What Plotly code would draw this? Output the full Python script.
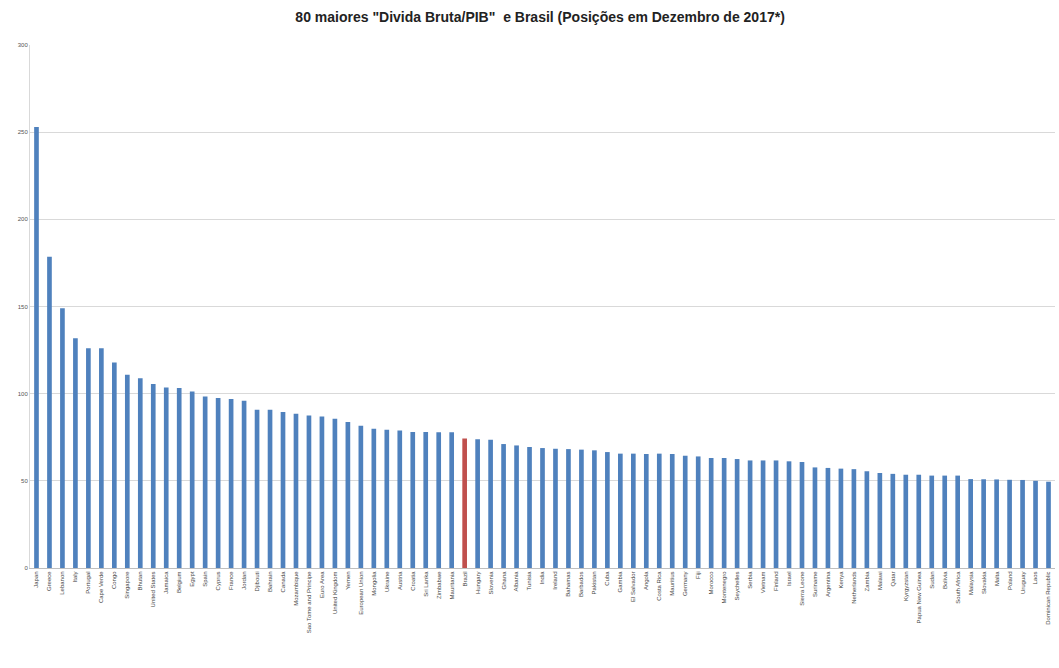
import plotly.graph_objects as go

# Government gross debt as % of GDP, positions at December 2017
countries = [
    "Japan", "Greece", "Lebanon", "Italy", "Portugal", "Cape Verde", "Congo",
    "Singapore", "Bhutan", "United States", "Jamaica", "Belgium", "Egypt",
    "Spain", "Cyprus", "France", "Jordan", "Djibouti", "Bahrain", "Canada",
    "Mozambique", "Sao Tome and Principe", "Euro Area", "United Kingdom",
    "Yemen", "European Union", "Mongolia", "Ukraine", "Austria", "Croatia",
    "Sri Lanka", "Zimbabwe", "Mauritania", "Brazil", "Hungary", "Slovenia",
    "Ghana", "Albania", "Tunisia", "India", "Ireland", "Bahamas", "Barbados",
    "Pakistan", "Cuba", "Gambia", "El Salvador", "Angola", "Costa Rica",
    "Mauritius", "Germany", "Fiji", "Morocco", "Montenegro", "Seychelles",
    "Serbia", "Vietnam", "Finland", "Israel", "Sierra Leone", "Suriname",
    "Argentina", "Kenya", "Netherlands", "Zambia", "Malawi", "Qatar",
    "Kyrgyzstan", "Papua New Guinea", "Sudan", "Bolivia", "South Africa",
    "Malaysia", "Slovakia", "Malta", "Poland", "Uruguay", "Laos",
    "Dominican Republic",
]

debt_to_gdp = [
    253.0, 178.6, 149.0, 131.8, 126.1, 126.0, 117.9, 110.8, 108.9, 105.5,
    103.6, 103.2, 101.3, 98.4, 97.5, 97.0, 95.9, 90.8, 90.8, 89.5,
    88.5, 87.5, 86.9, 85.6, 83.7, 81.6, 79.9, 79.3, 78.9, 78.0,
    78.0, 77.9, 77.8, 74.3, 73.8, 73.6, 71.1, 70.3, 69.4, 68.8,
    68.4, 68.2, 67.9, 67.5, 66.5, 65.6, 65.6, 65.4, 65.6, 65.4,
    64.4, 64.0, 63.1, 63.1, 62.5, 61.7, 61.7, 61.7, 61.2, 60.8,
    57.7, 57.4, 57.0, 56.7, 55.5, 54.5, 54.0, 53.5, 53.5, 53.0,
    53.0, 53.0, 51.0, 50.9, 50.8, 50.6, 50.5, 50.0, 49.5,
]

highlight = "Brazil"
bar_colors = ["#C0504D" if c == highlight else "#4F81BD" for c in countries]

fig = go.Figure(
    go.Bar(
        x=countries,
        y=debt_to_gdp,
        marker=dict(color=bar_colors, line=dict(width=0)),
    )
)

fig.update_layout(
    width=1059,
    height=668,
    margin=dict(l=30, r=4, t=45, b=100),
    paper_bgcolor="white",
    plot_bgcolor="white",
    bargap=0.64,
    showlegend=False,
    title=dict(
        text="<b>80 maiores \"Divida Bruta/PIB\"  e Brasil (Posições em Dezembro de 2017*)</b>",
        x=0.51,
        xanchor="center",
        y=0.975,
        yanchor="middle",
        font=dict(family="Liberation Sans Narrow, Arial Narrow, Liberation Sans, sans-serif",
                  size=14, color="#222222"),
    ),
    font=dict(family="Liberation Sans, Arial, sans-serif", color="#444444"),
)

fig.update_yaxes(
    range=[0, 300],
    tickvals=[0, 50, 100, 150, 200, 250, 300],
    tickfont=dict(size=6, color="#555555"),
    showgrid=True,
    gridcolor="#D9D9D9",
    gridwidth=1,
    showline=True,
    linecolor="#D9D9D9",
    zeroline=False,
    ticks="",
)

fig.update_xaxes(
    tickangle=-90,
    tickfont=dict(size=6, color="#444444"),
    showline=True,
    linecolor="#BFBFBF",
    ticks="",
    range=[-0.5, len(countries) - 0.5],
)

fig.write_html("out.html")
